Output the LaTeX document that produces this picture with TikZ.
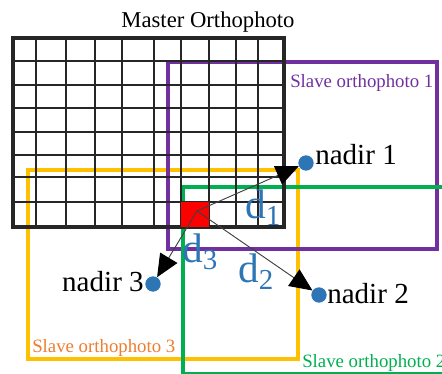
\documentclass[tikz,border=0pt]{standalone}
\usepackage{fontspec}
\setmainfont{Liberation Serif}
\usetikzlibrary{arrows.meta}

\begin{document}
\begin{tikzpicture}[x=0.75pt,y=0.75pt,yscale=-1,xscale=1,
  slavebox/.style={line width=2.8pt},
  gridline/.style={color={rgb, 255:red, 38; green, 38; blue, 38 }, line width=1.5pt},
  gridframe/.style={color={rgb, 255:red, 38; green, 38; blue, 38 }, line width=3pt},
  nadirdot/.style={circle, fill={rgb, 255:red, 46; green, 117; blue, 182 }, inner sep=0pt, minimum size=11.5pt},
  ray/.style={color={rgb, 255:red, 64; green, 64; blue, 64 }, line width=0.7pt, -{Triangle[length=17pt,width=15pt,color=black]}},
  nadirlabel/.style={inner sep=0pt, font=\fontsize{21.8}{24}\selectfont},
  slavelabel/.style={inner sep=0pt, font=\fontsize{14.1}{16}\selectfont},
  distlabel/.style={inner sep=0pt, color={rgb, 255:red, 46; green, 117; blue, 182 }, font=\fontsize{31}{35}\selectfont}
]
\useasboundingbox (0,0) rectangle (442,374);

%Shape: Rectangle [slave orthophoto 3]
\draw [slavebox, color={rgb, 255:red, 255; green, 192; blue, 0 }] (28,170) rectangle (298,359) ;
%Shape: Rectangle [slave orthophoto 1]
\draw [slavebox, color={rgb, 255:red, 112; green, 48; blue, 160 }] (168,62) rectangle (437,249) ;
%Shape: Rectangle [slave orthophoto 2]
\draw [slavebox, color={rgb, 255:red, 0; green, 176; blue, 80 }] (183,187) rectangle (470,374) ;

%Straight Lines [master grid, columns]
\draw [gridline] (36,38) -- (36,227) ;
\draw [gridline] (66,38) -- (66,227) ;
\draw [gridline] (95,38) -- (95,227) ;
\draw [gridline] (122,38) -- (122,227) ;
\draw [gridline] (154,38) -- (154,227) ;
\draw [gridline] (181,38) -- (181,227) ;
\draw [gridline] (209,38) -- (209,227) ;
\draw [gridline] (236,38) -- (236,227) ;
\draw [gridline] (258,38) -- (258,227) ;
%Straight Lines [master grid, rows]
\draw [gridline] (13,61) -- (284,61) ;
\draw [gridline] (13,85) -- (284,85) ;
\draw [gridline] (13,108) -- (284,108) ;
\draw [gridline] (13,132) -- (284,132) ;
\draw [gridline] (13,155) -- (284,155) ;
\draw [gridline] (13,177) -- (284,177) ;
\draw [gridline] (13,202) -- (284,202) ;
%Shape: Rectangle [master frame]
\draw [gridframe] (13,38) rectangle (284,227) ;

%Shape: Square [pixel]
\node (pix) [fill={rgb, 255:red, 255; green, 0; blue, 0 }, inner sep=0pt, minimum width=21pt, minimum height=18.75pt] at (195,214.5) {};
\coordinate (o) at (197,211);

%Shape: Circle [nadirs]
\node (n1) [nadirdot] at (306,163) {};
\node (n2) [nadirdot] at (319,295) {};
\node (n3) [nadirdot] at (153,284) {};

%Straight Lines [rays]
\draw [ray] (o) -- (n1) ;
\draw [ray] (o) -- (n2) ;
\draw [ray] (o) -- (n3) ;

% Text Node
\node (title) [anchor=base, inner sep=0pt, font=\fontsize{17}{20}\selectfont] at (208,28) {Master Orthophoto};
% Text Node
\node (s1) [slavelabel, anchor=base west, color={rgb, 255:red, 112; green, 48; blue, 160 }] at (290,88) {Slave orthophoto 1};
% Text Node
\node (s2) [slavelabel, anchor=base west, color={rgb, 255:red, 0; green, 176; blue, 80 }] at (302,367) {Slave orthophoto 2};
% Text Node
\node (s3) [slavelabel, anchor=base west, color={rgb, 255:red, 237; green, 125; blue, 49 }] at (32,352) {Slave orthophoto 3};
% Text Node
\node (l1) [nadirlabel, anchor=base west] at (315,164) {nadir 1};
% Text Node
\node (l2) [nadirlabel, anchor=base west] at (327,303) {nadir 2};
% Text Node
\node (l3) [nadirlabel, anchor=base east] at (144,291) {nadir 3};
% Text Node
\node (d1) [distlabel, anchor=base west] at (245,218) {d\textsubscript{1}};
% Text Node
\node (d2) [distlabel, anchor=base west] at (238,282) {d\textsubscript{2}};
% Text Node
\node (d3) [distlabel, anchor=base west] at (182,262) {d\textsubscript{3}};

\end{tikzpicture}
\end{document}
